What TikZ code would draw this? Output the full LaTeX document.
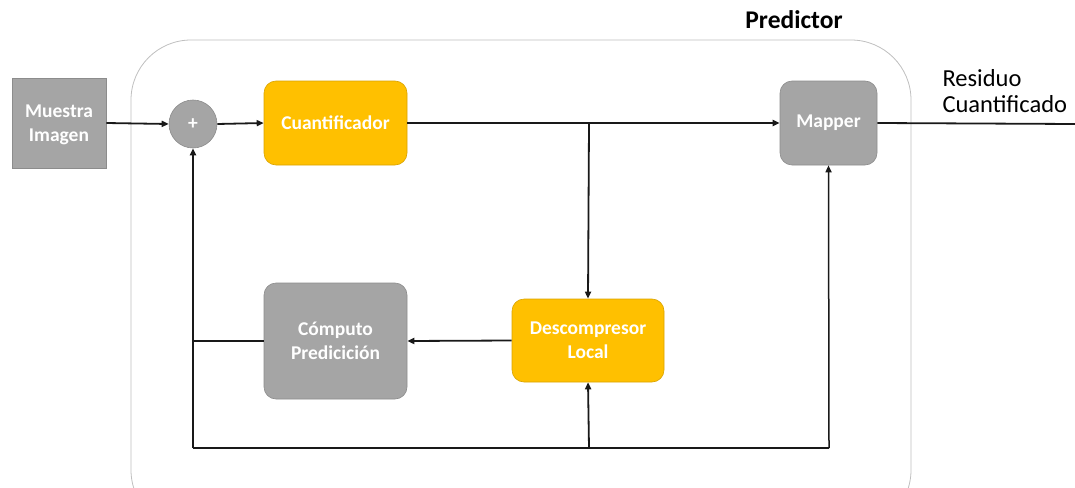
\documentclass[tikz,border=0pt]{standalone}
\usepackage{fontspec}
\setmainfont{Carlito}
\usetikzlibrary{arrows.meta}
\definecolor{boxgray}{HTML}{A5A5A5}
\definecolor{grayedge}{HTML}{8C8C8C}
\definecolor{amber}{HTML}{FFC000}
\definecolor{amberedge}{HTML}{D9A300}
\definecolor{frame}{HTML}{BFBFBF}
\tikzset{
  x=1pt, y=-1pt,
  block/.style={draw=grayedge, line width=0.6pt, fill=boxgray, text=white,
    font=\fontsize{19.5}{24}\selectfont\bfseries, align=center, inner sep=0pt},
  graybox/.style={block, rounded corners=12pt},
  amberbox/.style={block, draw=amberedge, fill=amber, rounded corners=12pt},
  wire/.style={line width=1.8pt, draw=black!90},
  arr/.style={wire, -{Triangle[length=7pt,width=6pt]}}
}
\begin{document}
\begin{tikzpicture}
\useasboundingbox (0,0) rectangle (1075,487);
% predictor enclosure (bottom runs past the edge)
\begin{scope}
\clip (0,0) rectangle (1075,487);
\draw[frame, line width=0.8pt, rounded corners=60pt] (131,40) rectangle (911,530);
\end{scope}
\node[font=\fontsize{25.5}{30}\selectfont\bfseries] (title) at (794,20) {Predictor};

% blocks
\node[block, minimum width=94pt, minimum height=90pt] (src) at (59,123) {\strut Muestra\\Imagen};
\node[circle, draw=grayedge, line width=0.6pt, fill=boxgray, minimum size=48pt, inner sep=0pt,
      text=white, font=\fontsize{19.5}{24}\selectfont\bfseries] (sum) at (193,124) {+};
\node[amberbox, minimum width=143pt, minimum height=84pt] (quant) at (335.5,123) {Cuantificador};
\node[graybox, minimum width=97pt, minimum height=84pt] (map) at (828.5,123) {Mapper};
\node[amberbox, minimum width=152pt, minimum height=83pt] (dec) at (588,340.5) {Descompresor\\Local};
\node[graybox, minimum width=143pt, minimum height=116pt] (pred) at (335.5,341) {Cómputo\\Predicición};

\node[anchor=west, align=left, font=\fontsize{24.5}{26}\selectfont] (out) at (939,91) {Residuo\\Cuantificado};

% junction points
\coordinate (jq) at (589,124);
\coordinate (jl) at (193,341);
\coordinate (bl) at (193,448);
\coordinate (bm) at (589,448);
\coordinate (br) at (829,448);
\coordinate (end) at (1075,124);

% forward path
\draw[arr] (src.east) -- (sum.west);
\draw[arr] (sum.east) -- (quant.west);
\draw[arr] (quant.east) -- (map.west);
\draw[arr] (jq) -- (dec.north);
\draw[wire] (map.east) -- (end);

% feedback path
\draw[arr] (dec.west) -- (pred.east);
\draw[wire] (pred.west) -- (jl);
\draw[arr] (bl) -- (sum.south);
\draw[wire, line width=2.2pt] (bl) -- (bm);
\draw[wire, line width=1.5pt] (bm) -- (br);
\draw[arr] (bm) -- (dec.south);
\draw[arr, line width=1.5pt] (br) -- (map.south);
\end{tikzpicture}
\end{document}
